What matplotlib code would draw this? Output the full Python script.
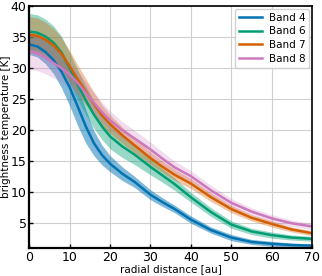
import numpy as np
import matplotlib
matplotlib.use("Agg")
import matplotlib.pyplot as plt

# radial grid [au]
r = [0, 2, 4, 6, 8, 10, 12, 14, 16, 18, 20, 23, 26, 30, 33, 36, 40, 45, 50, 55, 60, 65, 70]

# brightness temperature profiles [K] and 1-sigma widths
band4 = [33.8, 33.5, 32.6, 31.3, 29.4, 26.9, 23.8, 20.6, 17.9, 16.0, 14.6, 13.0, 11.7, 9.6, 8.4, 7.3, 5.6, 3.9, 2.7, 2.0, 1.7, 1.5, 1.4]
band4_err = [1.6, 1.7, 1.9, 2.2, 2.6, 3.0, 3.1, 2.7, 2.0, 1.6, 1.3, 1.1, 0.9, 0.8, 0.7, 0.6, 0.6, 0.5, 0.5, 0.4, 0.4, 0.3, 0.3]

band6 = [35.9, 35.7, 35.1, 34.1, 32.5, 30.0, 27.3, 24.8, 22.5, 20.6, 19.0, 17.4, 16.1, 14.1, 12.7, 11.3, 9.2, 6.8, 4.8, 3.7, 3.1, 2.7, 2.5]
band6_err = [2.9, 2.9, 2.8, 2.7, 2.6, 2.5, 2.4, 2.3, 2.2, 2.1, 2.0, 1.8, 1.6, 1.3, 1.1, 1.0, 0.8, 0.7, 0.6, 0.5, 0.5, 0.4, 0.4]

band7 = [35.4, 35.2, 34.6, 33.7, 32.3, 30.3, 28.2, 26.2, 24.2, 22.4, 21.0, 19.2, 17.6, 15.5, 14.1, 12.8, 11.4, 9.2, 7.3, 5.9, 4.9, 4.0, 3.4]
band7_err = [2.9, 2.9, 2.8, 2.7, 2.6, 2.5, 2.3, 2.1, 1.9, 1.7, 1.5, 1.3, 1.2, 1.0, 0.9, 0.9, 0.8, 0.7, 0.6, 0.5, 0.5, 0.4, 0.4]

band8 = [32.7, 32.4, 31.7, 30.8, 30.0, 29.0, 27.6, 26.0, 24.4, 22.9, 21.6, 20.0, 18.7, 16.9, 15.4, 14.0, 12.6, 10.3, 8.3, 6.9, 5.8, 5.0, 4.5]
band8_err = [2.9, 2.8, 2.6, 2.4, 2.2, 2.0, 1.9, 1.8, 1.7, 1.6, 1.5, 1.4, 1.3, 1.2, 1.1, 1.0, 0.9, 0.8, 0.7, 0.6, 0.6, 0.5, 0.5]

labels = ["Band 4", "Band 6", "Band 7", "Band 8"]
colors = ["#0173b2", "#029e73", "#d55e00", "#cc78bc"]
alphas = [0.5, 0.4, 0.35, 0.25]

fig = plt.figure(figsize=(3.22, 2.76), dpi=100)
ax = fig.add_axes([0.091, 0.101, 0.878, 0.877])

profiles = [(band4, band4_err), (band6, band6_err), (band7, band7_err), (band8, band8_err)]
for (t, e), c, a in zip(profiles, colors, alphas):
    t = np.array(t)
    e = np.array(e)
    ax.fill_between(r, t - e, t + e, color=c, alpha=a, lw=0)
for (t, e), lab, c in zip(profiles, labels, colors):
    ax.plot(r, t, color=c, lw=1.8, label=lab)

ax.set_xlim(0, 70)
ax.set_ylim(1, 40)
ax.set_xticks(range(0, 71, 10))
ax.set_yticks(range(5, 41, 5))
ax.grid(color="#d0d0d0", lw=0.8)
ax.set_axisbelow(True)
ax.tick_params(direction="in", labelsize=9, length=3, width=1, color="black", pad=2)
for s in ax.spines.values():
    s.set_linewidth(1.2)
    s.set_color("black")
ax.spines["left"].set_linewidth(1.6)
ax.spines["bottom"].set_linewidth(1.6)

ax.set_xlabel("radial distance [au]", fontsize=7.5, labelpad=0)
ax.set_ylabel("brightness temperature [K]", fontsize=7.5, labelpad=0)
ax.legend(loc="upper right", fontsize=7.5, handlelength=2.2, handletextpad=0.6,
          labelspacing=0.35, borderaxespad=0.25, framealpha=0.9)

fig.savefig("out.png", dpi=100)
